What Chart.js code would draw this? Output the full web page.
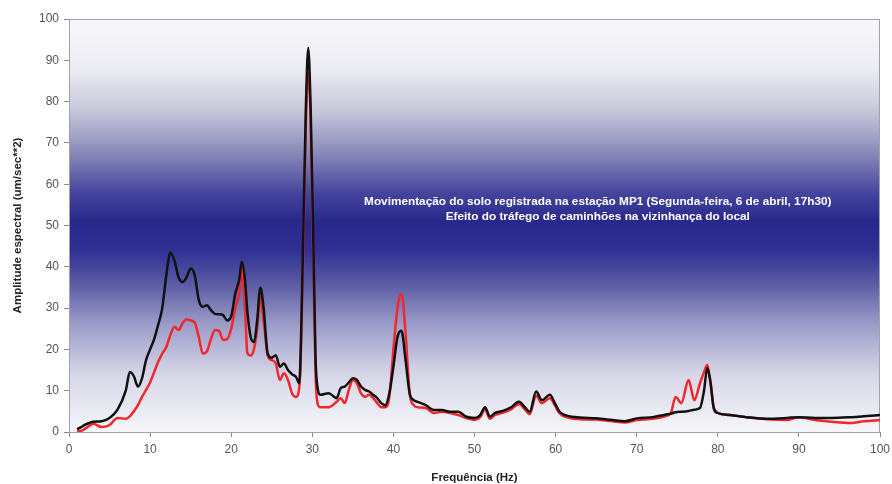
<!DOCTYPE html>
<html>
<head>
<meta charset="utf-8">
<script src="https://cdn.jsdelivr.net/npm/chart.js@4/dist/chart.umd.min.js"></script>
<style>
  body { margin: 0; background: #fff; }
  #wrap { width: 892px; height: 484px; }
</style>
</head>
<body>
<div id="wrap"><canvas id="espectro"></canvas></div>
<script>
// Frequências (Hz) e amplitudes
const freq = [1, 1.5, 2, 3, 4, 5, 6, 7, 7.5, 8, 8.5, 9, 9.5, 10, 10.5, 11, 11.5, 12, 12.5, 13, 13.5, 14, 14.5, 15, 15.5, 16, 16.5, 17, 17.5, 18, 18.5, 19, 19.5, 20, 20.5, 21, 21.3, 21.7, 22, 22.4, 22.8, 23.2, 23.6, 24, 24.5, 25, 25.5, 26, 26.5, 27, 27.5, 28, 28.4, 28.6, 28.9, 29.2, 29.5, 29.8, 30.1, 30.4, 30.7, 31, 32, 33, 33.5, 34, 34.5, 35, 35.5, 36, 36.5, 37, 37.5, 38, 38.5, 39, 39.5, 40, 40.5, 41, 41.5, 42, 42.5, 43, 44, 45, 46, 47, 48, 49, 50, 50.7, 51.3, 51.9, 52.5, 53.5, 54.5, 55.5, 56.2, 56.8, 57.6, 58.3, 59.3, 59.9, 60.5, 61.5, 63, 65, 67, 68.5, 70, 72, 73.5, 74.2, 74.8, 75.5, 76.4, 77.1, 77.8, 78.3, 78.7, 79.1, 79.5, 80, 81.5, 83.5, 86, 88.5, 90, 92, 94, 96.5, 98, 100];

const seriePreta = [0.7, 1.2, 1.8, 2.5, 2.6, 3.4, 5.5, 10, 14.5, 13.5, 11, 13, 17.4, 20, 22.5, 26, 30, 38, 43.4, 41.5, 37.5, 36.3, 37.5, 39.6, 38, 32, 30.3, 30.7, 29.5, 28.6, 28.5, 28.3, 27, 28, 33.5, 37, 41.2, 36.8, 29, 23, 21.8, 27, 35, 30, 19, 18, 18.6, 15.8, 16.6, 15, 14, 13.3, 11.8, 22, 49, 78, 93, 78, 49, 18, 10.2, 9, 9.4, 8.2, 10.6, 11, 12, 13, 12.6, 11, 10.2, 9.8, 9, 8.2, 7, 6.5, 9.4, 15.8, 23, 24.5, 17.4, 9.4, 7.7, 7.3, 6.5, 5.3, 5.3, 4.9, 4.9, 3.7, 3.4, 4.1, 6, 3.7, 4.6, 5.1, 6, 7.3, 6, 4.9, 9.8, 7.7, 9, 7, 4.9, 3.9, 3.5, 3.3, 2.9, 2.6, 3.3, 3.6, 4.2, 4.4, 4.8, 4.9, 5.1, 5.4, 5.8, 10, 15.5, 12, 5.8, 4.6, 4.1, 3.6, 3.2, 3.4, 3.6, 3.4, 3.4, 3.6, 3.8, 4.1];

const serieVermelha = [0.3, 0.3, 0.8, 2, 1.2, 1.7, 3.4, 3.2, 3.8, 5, 6.5, 8.5, 10.2, 12, 14.5, 17, 19, 20.6, 23.5, 25.5, 24.7, 26.3, 27.3, 27, 26.5, 23, 19, 19.5, 22.5, 24.7, 24.5, 22.3, 22.5, 25, 30, 34, 40, 30, 19, 18.5, 20, 25, 32.7, 27, 18.5, 17.4, 16.6, 12.6, 14.2, 12.6, 9.4, 8.5, 11, 20, 45, 74, 87, 75, 45, 14, 6.5, 6, 6, 7.3, 8.2, 7, 10.2, 12.6, 11.8, 9.4, 8.5, 9, 8.2, 7, 6, 6, 8.5, 20, 30, 33.5, 24, 9.4, 6.5, 6, 5.8, 4.6, 4.9, 4.6, 4.1, 3.4, 2.9, 3.6, 5.5, 3.2, 4.1, 4.7, 5.5, 6.8, 5.5, 4.3, 8.8, 7, 8.2, 6.5, 4.5, 3.5, 3.1, 3, 2.6, 2.3, 2.9, 3.2, 3.8, 4.5, 8.5, 7, 12.6, 7.7, 11.8, 14.5, 16.2, 12, 5.8, 4.6, 4.1, 3.6, 3.1, 2.9, 3.6, 2.9, 2.5, 2.2, 2.6, 2.9];

const titulo = [
  'Movimentação do solo registrada na estação MP1 (Segunda-feira, 6 de abril, 17h30)',
  'Efeito do tráfego de caminhões na vizinhança do local'
];

const fonte = 'Liberation Sans, Arial, sans-serif';

function pontos(valores) {
  return freq.map((f, i) => ({ x: f, y: valores[i] }));
}

// fundo em degradê (branco - azul escuro - branco) e moldura
const fundo = {
  id: 'fundo',
  beforeDatasetsDraw(chart) {
    const { ctx, chartArea: a } = chart;
    const g = ctx.createLinearGradient(0, a.top, 0, a.bottom);
    g.addColorStop(0, '#f7f7fb');
    g.addColorStop(0.12, '#ececf3');
    g.addColorStop(0.22, '#c8c8dc');
    g.addColorStop(0.33, '#8686b6');
    g.addColorStop(0.42, '#45459e');
    g.addColorStop(0.49, '#28288c');
    g.addColorStop(0.56, '#303094');
    g.addColorStop(0.64, '#5a5aa6');
    g.addColorStop(0.74, '#9c9cc8');
    g.addColorStop(0.86, '#d6d6e8');
    g.addColorStop(1, '#f6f6fa');
    ctx.save();
    ctx.fillStyle = g;
    ctx.fillRect(a.left, a.top, a.right - a.left, a.bottom - a.top);
    ctx.strokeStyle = '#a0a0b0';
    ctx.lineWidth = 1;
    ctx.strokeRect(a.left + 0.5, a.top + 0.5, a.right - a.left - 1, a.bottom - a.top);
    ctx.restore();
  },
  afterDatasetsDraw(chart) {
    const { ctx, scales } = chart;
    const cx = scales.x.getPixelForValue(65.2);
    const cy = scales.y.getPixelForValue(54);
    ctx.save();
    ctx.fillStyle = '#ffffff';
    ctx.font = 'bold 11.8px ' + fonte;
    ctx.textAlign = 'center';
    ctx.textBaseline = 'middle';
    ctx.fillText(titulo[0], cx, cy - 7);
    ctx.fillText(titulo[1], cx, cy + 8);
    ctx.restore();
  }
};

new Chart(document.getElementById('espectro'), {
  type: 'line',
  data: {
    datasets: [
      {
        label: 'Preta',
        data: pontos(seriePreta),
        borderColor: '#111111',
        borderWidth: 2.5
      },
      {
        label: 'Vermelha',
        data: pontos(serieVermelha),
        borderColor: '#f0282c',
        borderWidth: 2.5
      }
    ]
  },
  options: {
    responsive: true,
    maintainAspectRatio: false,
    animation: false,
    layout: {
      padding: { top: 19, right: 12, left: 0, bottom: 0 }
    },
    elements: {
      point: { radius: 0 },
      line: { cubicInterpolationMode: 'monotone', fill: false }
    },
    plugins: {
      legend: { display: false },
      tooltip: { enabled: false }
    },
    scales: {
      x: {
        type: 'linear',
        min: 0,
        max: 100,
        afterFit: function(s) {
          s.height = 52;
          s.paddingLeft = 0;
          s.paddingRight = 0;
        },
        grid: { drawOnChartArea: false, tickLength: 5, color: '#888888' },
        border: { color: '#888888' },
        ticks: {
          stepSize: 10,
          padding: 5,
          color: '#555555',
          font: { family: fonte, size: 12 }
        },
        title: {
          display: true,
          text: 'Frequência (Hz)',
          color: '#222222',
          padding: { top: 0, bottom: 0 },
          font: { family: fonte, size: 11.5, weight: 'bold', lineHeight: 1.1 }
        }
      },
      y: {
        min: 0,
        max: 100,
        afterFit: function(s) {
          s.width = 69;
          s.paddingTop = 0;
          s.paddingBottom = 0;
        },
        grid: { drawOnChartArea: false, tickLength: 5, color: '#888888' },
        border: { color: '#888888' },
        ticks: {
          stepSize: 10,
          padding: 5,
          color: '#555555',
          font: { family: fonte, size: 12 }
        },
        title: {
          display: true,
          text: 'Amplitude espectral (um/sec**2)',
          color: '#222222',
          padding: { top: 11, bottom: 0 },
          font: { family: fonte, size: 11.5, weight: 'bold', lineHeight: 1.2 }
        }
      }
    }
  },
  plugins: [fundo]
});
</script>
</body>
</html>
